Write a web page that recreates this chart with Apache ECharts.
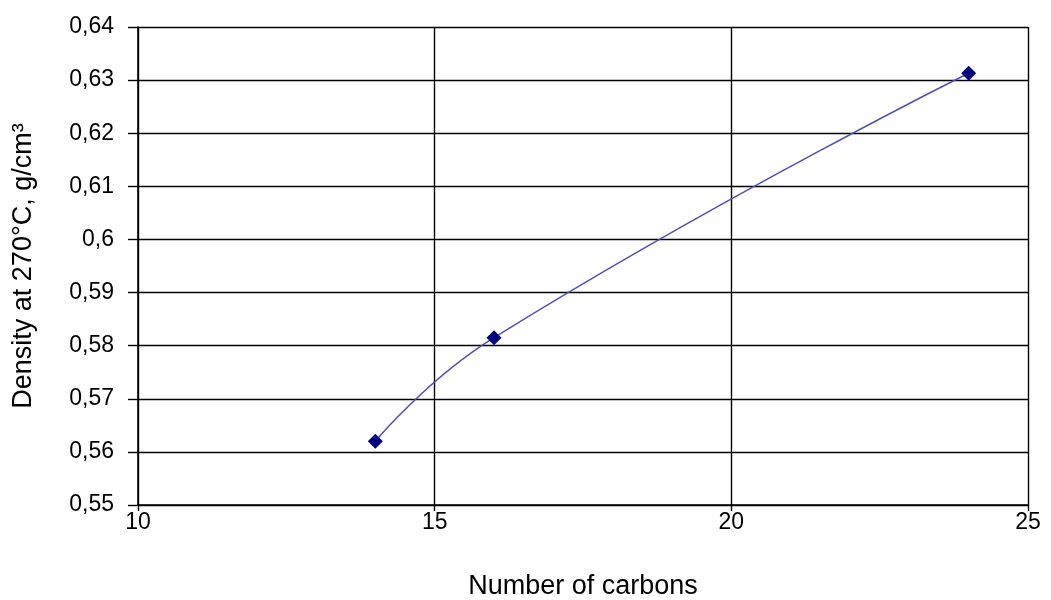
<!DOCTYPE html>
<html><head><meta charset="utf-8">
<script src="https://cdn.jsdelivr.net/npm/echarts@6/dist/echarts.min.js"></script>
<style>html,body{margin:0;padding:0;background:#fff}#c{width:1051px;height:600px}</style>
</head><body><div id="c"></div>
<script>
var carbons = [14, 16, 24];
var density = [0.562, 0.5815, 0.6313];
var xTitle = 'Number of carbons';
var yTitle = 'Density at 270°C, g/cm³';

var chart = echarts.init(document.getElementById('c'));
var font = 'Liberation Sans, Arial, sans-serif';
chart.setOption({
  animation: false,
  grid: {left: 138, right: 23, top: 27, bottom: 95, containLabel: false, outerBoundsMode: 'none'},
  xAxis: {
    type: 'value', min: 10, max: 25, interval: 5,
    name: xTitle, nameLocation: 'middle', nameGap: 68,
    nameTextStyle: {fontFamily: font, fontSize: 27, color: '#000'},
    axisLine: {show: true, lineStyle: {color: '#000', width: 1.6}},
    axisTick: {show: true, length: 6, lineStyle: {color: '#000', width: 1.4}},
    axisLabel: {fontFamily: font, fontSize: 23, color: '#000', margin: 6},
    splitLine: {show: true, lineStyle: {color: '#000', width: 1.4}}
  },
  yAxis: {
    type: 'value', min: 0.55, max: 0.64, interval: 0.01,
    name: yTitle, nameLocation: 'middle', nameGap: 101,
    nameTextStyle: {fontFamily: font, fontSize: 27, color: '#000'},
    axisLine: {show: true, lineStyle: {color: '#000', width: 1.6}},
    axisTick: {show: true, length: 10, lineStyle: {color: '#000', width: 1.4}},
    axisLabel: {fontFamily: font, fontSize: 23, color: '#000', margin: 24,
      formatter: function (v) { return String(+v.toFixed(2)).replace('.', ','); }},
    splitLine: {show: true, lineStyle: {color: '#000', width: 1.4}}
  },
  series: [{
    type: 'line',
    data: carbons.map(function (c, i) { return [c, density[i]]; }),
    smooth: 0.5,
    symbol: 'diamond', symbolSize: 15,
    itemStyle: {color: '#000080'},
    lineStyle: {color: '#5050b0', width: 1.5}
  }]
});
</script></body></html>
